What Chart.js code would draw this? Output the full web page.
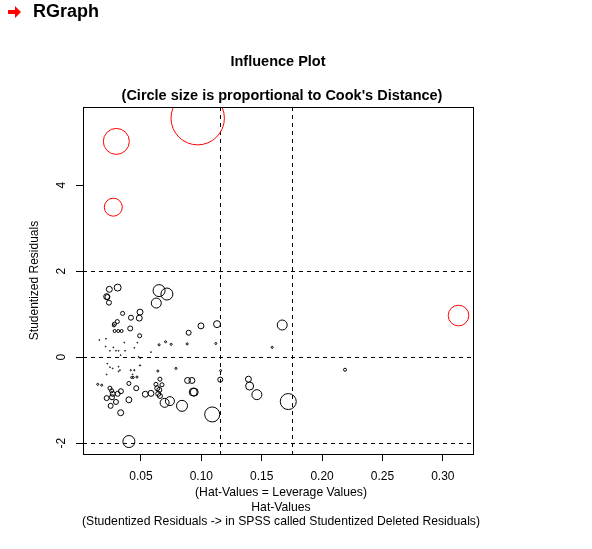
<!DOCTYPE html>
<html>
<head>
<meta charset="utf-8">
<script src="https://cdn.jsdelivr.net/npm/chart.js@4"></script>
<style>
    body { margin: 0; background: #fff; }
    #wrap { position: relative; width: 592px; height: 549px; }
    #head { position: absolute; left: 8px; top: 1px; font: bold 18px Arial, "Liberation Sans", sans-serif; color: #000; }
    #head svg { vertical-align: -1px; margin-right: 12px; }
    canvas { position: absolute; left: 0; top: 0; }
</style>
</head>
<body>
<div id="wrap">
    <canvas id="myChart" width="592" height="549"></canvas>
    <div id="head"><svg width="13" height="12" viewBox="0 0 13 12"><polygon points="0,4 7,4 7,0 13,6 7,12 7,8 0,8" fill="#f00"/></svg>RGraph</div>
</div>
<script>
// hat values (leverage), studentized residuals and Cook's distance per case
const hatValues = [
    0.097, 0.0296, 0.0271, 0.313,
    0.172, 0.109, 0.040, 0.084, 0.065, 0.0715, 0.0627, 0.167, 0.146, 0.074, 0.0696,
    0.140, 0.139, 0.0933, 0.0941, 0.0886, 0.0922, 0.1157, 0.116, 0.112, 0.113, 0.0997,
    0.0895, 0.0883, 0.079, 0.064, 0.1587, 0.219,
    0.0307, 0.0238, 0.0216, 0.0222, 0.0235, 0.0348, 0.0417, 0.0492, 0.0486, 0.0304,
    0.028, 0.0275, 0.0411, 0.0282, 0.0312, 0.034, 0.0489, 0.065, 0.0704, 0.075,
    0.0142, 0.0175, 0.0243, 0.0257, 0.0334, 0.0307, 0.0266, 0.0216, 0.026, 0.0293,
    0.0249, 0.0332, 0.040, 0.040, 0.0461, 0.0536, 0.0583, 0.0657, 0.0624, 0.0674,
    0.0635, 0.0652, 0.0643, 0.0657, 0.0423, 0.0436, 0.0467, 0.0445, 0.0415, 0.0492,
    0.0155, 0.021, 0.0208, 0.0243, 0.0271, 0.0293, 0.0315, 0.0332, 0.0368, 0.0362,
    0.0445, 0.047, 0.0494, 0.0583, 0.048, 0.0221, 0.0243, 0.0266, 0.0315, 0.0216,
    0.0326, 0.0431, 0.0315
];
const studResiduals = [
    5.56, 5.02, 3.49, 0.97,
    -1.03, -1.33, -1.96, -1.13, 1.55, 1.47, 1.26, 0.75, -0.87, -1.02, -1.06,
    -0.67, -0.51, -0.81, -0.81, -0.54, -0.54, -0.52, -0.31, 0.32, 0.77, 0.73,
    0.57, 0.31, -0.26, -0.32, 0.23, -0.29,
    1.62, 1.58, 1.41, 1.40, 1.27, 1.02, 0.92, 1.05, 0.91, 0.83,
    0.77, 0.74, 0.67, 0.61, 0.61, 0.61, 0.50, 0.29, 0.36, 0.30,
    -0.63, -0.65, -0.72, -0.78, -0.79, -0.85, -0.85, -0.95, -0.93, -1.04,
    -1.13, -1.29, -0.99, -0.61, -0.72, -0.86, -0.84, -0.51, -0.63, -0.64,
    -0.72, -0.76, -0.85, -0.90, -0.47, -0.47, -0.46, -0.30, -0.30, -0.19,
    0.40, 0.43, 0.25, 0.15, 0.23, 0.15, 0.15, 0.05, 0.15, 0.34,
    0.22, 0.34, -0.02, 0.12, 0.01, -0.15, -0.23, -0.26, -0.22, -0.40,
    -0.30, -0.40, -0.33
];
const cooksDistance = [
    0.352, 0.0835, 0.040, 0.0524,
    0.0316, 0.0278, 0.0178, 0.0149, 0.0178, 0.0178, 0.0123, 0.0123, 0.0123, 0.010, 0.010,
    0.0079, 0.0044, 0.0079, 0.0079, 0.0044, 0.0044, 0.0031, 0.0005, 0.0005, 0.006, 0.0044,
    0.0031, 0.0005, 0.0005, 0.0005, 0.0005, 0.0011,
    0.006, 0.0044, 0.0044, 0.0031, 0.0031, 0.002, 0.0031, 0.0044, 0.0044, 0.002,
    0.002, 0.0011, 0.0031, 0.0011, 0.0011, 0.0011, 0.002, 0.0005, 0.0005, 0.0005,
    0.0005, 0.0005, 0.002, 0.002, 0.0031, 0.0031, 0.0031, 0.0031, 0.0031, 0.0031,
    0.0031, 0.0044, 0.0044, 0.002, 0.0031, 0.0044, 0.0044, 0.002, 0.002, 0.002,
    0.0031, 0.0031, 0.0031, 0.0031, 0.0005, 0.0005, 0.0005, 0.0002, 0.0002, 0.0002,
    0.0001, 0.0001, 0.0001, 0.0001, 0.0001, 0.0001, 0.0001, 0.0001, 0.0001, 0.0001,
    0.0001, 0.0001, 0.0001, 0.0001, 0.0001, 0.0001, 0.0001, 0.0001, 0.0001, 0.0001,
    0.0001, 0.0001, 0.0001
];

// reference lines: 2x and 3x mean hat value, residuals at -2, 0, 2
const hatCutoffs = [0.1158, 0.1747];
const residualCutoffs = [-2, 0, 2];
const cookCutoff = 0.035;

const xTickValues = [0.05, 0.10, 0.15, 0.20, 0.25, 0.30];
const yTickValues = [-2, 0, 2, 4];

const chartTitle = 'Influence Plot';
const chartSubtitle = "(Circle size is proportional to Cook's Distance)";
const xLabels = [
    '(Hat-Values = Leverage Values)',
    'Hat-Values',
    '(Studentized Residuals -> in SPSS called Studentized Deleted Residuals)'
];
const yLabel = 'Studentized Residuals';

const FONT = 'Arial, "Liberation Sans", sans-serif';

const points = hatValues.map(function (h, i) {
    return { x: h, y: studResiduals[i], r: 45 * Math.sqrt(cooksDistance[i]) };
});
const pointColors = cooksDistance.map(function (d) {
    return d > cookCutoff ? '#ff0000' : '#000000';
});

const extras = {
    id: 'extras',
    beforeDatasetsDraw(chart) {
        const ctx = chart.ctx;
        const a = chart.chartArea;
        const xs = chart.scales.x;
        const ys = chart.scales.y;
        ctx.save();
        ctx.strokeStyle = '#000';
        ctx.lineWidth = 1;
        ctx.setLineDash([4, 4]);
        hatCutoffs.forEach(function (v) {
            const px = Math.round(xs.getPixelForValue(v)) + 0.5;
            ctx.beginPath();
            ctx.moveTo(px, a.top);
            ctx.lineTo(px, a.bottom);
            ctx.stroke();
        });
        residualCutoffs.forEach(function (v) {
            const py = Math.round(ys.getPixelForValue(v)) + 0.5;
            ctx.beginPath();
            ctx.moveTo(a.left, py);
            ctx.lineTo(a.right, py);
            ctx.stroke();
        });
        ctx.restore();
    },
    afterDraw(chart) {
        const ctx = chart.ctx;
        const a = chart.chartArea;
        const ys = chart.scales.y;
        const cx = (a.left + a.right) / 2;
        ctx.save();
        // box
        ctx.strokeStyle = '#000';
        ctx.lineWidth = 1;
        ctx.strokeRect(Math.round(a.left) + 0.5, Math.round(a.top) + 0.5,
            Math.round(a.right - a.left), Math.round(a.bottom - a.top));

        ctx.fillStyle = '#000';
        ctx.textAlign = 'center';
        ctx.textBaseline = 'middle';
        ctx.font = 'bold 14.5px ' + FONT;
        ctx.fillText(chartTitle, cx, 62);
        ctx.fillText(chartSubtitle, cx + 4, 96);

        ctx.font = '12.2px ' + FONT;
        xLabels.forEach(function (t, i) {
            ctx.fillText(t, cx + 3, 493 + i * 14.3);
        });

        // rotated y tick labels and axis title
        ctx.font = '12px ' + FONT;
        yTickValues.forEach(function (v) {
            ctx.save();
            ctx.translate(62, ys.getPixelForValue(v));
            ctx.rotate(-Math.PI / 2);
            ctx.fillText(String(v), 0, 0);
            ctx.restore();
        });
        ctx.save();
        ctx.translate(35, (a.top + a.bottom) / 2);
        ctx.rotate(-Math.PI / 2);
        ctx.fillText(yLabel, 0, 0);
        ctx.restore();
        ctx.restore();
    }
};

const config = {
    type: 'bubble',
    data: {
        datasets: [{
            data: points,
            borderColor: pointColors,
            backgroundColor: 'rgba(0,0,0,0)',
            borderWidth: 1
        }]
    },
    options: {
        responsive: false,
        animation: false,
        events: [],
        layout: { padding: { left: 0, top: 107, right: 119, bottom: 55 } },
        plugins: {
            legend: { display: false },
            tooltip: { enabled: false }
        },
        scales: {
            x: {
                type: 'linear',
                min: 0.002,
                max: 0.325,
                afterBuildTicks: function (s) {
                    s.ticks = xTickValues.map(function (v) { return { value: v }; });
                },
                afterFit: function (s) { s.height = 40; },
                border: { display: false },
                grid: { drawOnChartArea: false, drawTicks: true, tickLength: 7, tickColor: '#000' },
                ticks: {
                    color: '#000',
                    padding: 8,
                    maxRotation: 0,
                    font: { family: FONT, size: 12 },
                    callback: function (v) { return v.toFixed(2); }
                }
            },
            y: {
                type: 'linear',
                min: -2.25,
                max: 5.82,
                afterBuildTicks: function (s) {
                    s.ticks = yTickValues.map(function (v) { return { value: v }; });
                },
                afterFit: function (s) { s.width = 83; },
                border: { display: false },
                grid: { drawOnChartArea: false, drawTicks: true, tickLength: 7, tickColor: '#000' },
                ticks: { display: false }
            }
        }
    },
    plugins: [extras]
};

const myChart = new Chart(
    document.getElementById('myChart'),
    config
);
</script>
</body>
</html>
